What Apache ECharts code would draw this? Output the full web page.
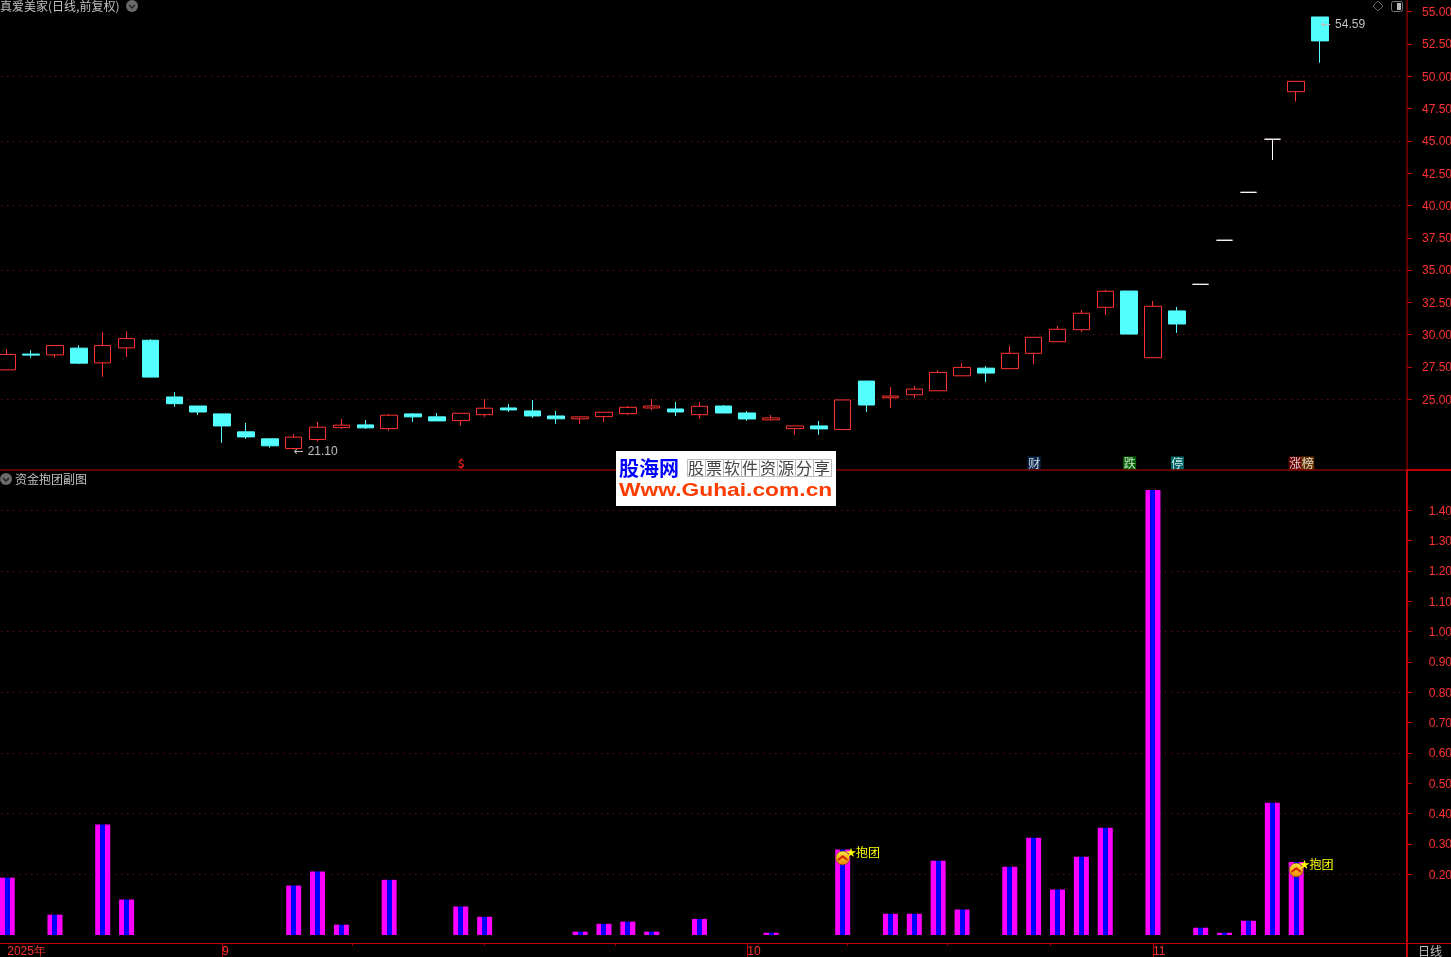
<!DOCTYPE html>
<html><head><meta charset="utf-8">
<style>html,body{margin:0;padding:0;background:#000}#c{width:1451px;height:957px}</style>
<script src="https://cdn.jsdelivr.net/npm/echarts@6/dist/echarts.min.js"></script>
</head><body><div id="c"></div>
<script>
// [open, close, low, high]
const candles = [
[27.28,28.47,27.28,28.88],[28.50,28.42,28.21,28.80],[28.44,29.16,28.21,29.16],[28.96,27.80,27.72,29.19],
[27.82,29.16,26.74,30.19],[28.98,29.70,28.28,30.27],[29.57,26.72,26.72,29.65],[25.18,24.66,24.41,25.56],
[24.48,24.02,23.78,24.48],[23.87,22.94,21.63,23.87],[22.48,22.09,21.94,23.18],[21.94,21.40,21.25,21.94],
[21.19,22.07,21.10,22.32],[21.89,22.84,21.73,23.25],[22.81,23.00,22.71,23.48],[23.02,22.79,22.71,23.40],
[22.73,23.77,22.56,23.87],[23.87,23.64,23.25,23.94],[23.64,23.33,23.33,23.94],[23.35,23.92,22.96,23.92],
[23.81,24.31,23.64,25.02],[24.33,24.18,24.02,24.64],[24.10,23.71,23.56,24.95],[23.71,23.49,23.10,24.10],
[23.49,23.64,23.10,23.64],[23.66,24.00,23.25,24.00],[23.89,24.38,23.79,24.49],[24.33,24.48,24.18,25.02],
[24.25,24.02,23.71,24.79],[23.81,24.46,23.49,24.79],[24.48,23.94,23.94,24.56],[23.94,23.48,23.33,24.10],
[23.41,23.56,23.33,23.79],[22.73,22.94,22.25,22.94],[22.94,22.71,22.25,23.33],[22.66,24.95,22.66,24.95],
[26.41,24.56,24.02,26.41],[25.12,25.25,24.33,25.95],[25.35,25.79,25.10,26.03],[25.66,27.08,25.66,27.26],
[26.82,27.47,26.82,27.80],[27.41,27.03,26.33,27.57],[27.37,28.56,27.37,29.13],[28.56,29.80,27.73,29.80],
[29.46,30.42,29.46,30.68],[30.39,31.66,30.21,31.91],[32.12,33.36,31.53,33.48],[33.38,30.05,30.05,33.38],
[28.22,32.20,28.22,32.61],[31.84,30.83,30.14,32.15],[33.90,33.90,33.90,33.90],[37.31,37.31,37.31,37.31],
[41.02,41.02,41.02,41.02],[45.13,45.13,43.52,45.13],[48.81,49.61,48.04,49.61],[54.59,52.74,51.05,54.59]
];
const flowIdx = [0,2,4,5,12,13,14,16,19,20,24,25,26,27,29,32,35,37,38,39,40,42,43,44,45,46,48,50,51,52,53,54];
const flowVal = [.189,.067,.364,.117,.163,.209,.034,.182,.094,.060,.011,.037,.044,.011,.053,.0075,.282,.070,.070,.245,.084,.225,.321,.150,.258,.354,1.467,.024,.0075,.047,.436,.241];
const signalIdx = [35,54];
const signalVal = [.254,.214];
const monthIdx = [0,9,31,48];
const monthText = ['2025年','9','10','11'];
const minorTickAt = [14.45,19.97,25.46,35.2,39.4,43.7];
const priceTicks = [25,27.5,30,32.5,35,37.5,40,42.5,45,47.5,50,52.5,55];
const priceGrid = [25,30,35,40,45,50];
const flowTicks = [.2,.3,.4,.5,.6,.7,.8,.9,1,1.1,1.2,1.3,1.4];
const flowGrid = [.2,.4,.6,.8,1,1.2,1.4];
const tagIdx = [19,43,47,49,54,54];
const tagText = ['$','财','跌','停','涨','榜'];
const tagBg = ['transparent','#0a3060','#007a00','#007f7f','#800000','#804000'];
const lowHigh = [[12,21.10],[55,54.59]];
const title = '真爱美家(日线,前复权)';
const subTitle = '资金抱团副图';
const periodText = '日线';
const logoCn = '股海网', logoSlogan = '股票软件资源分享', logoUrl = 'Www.Guhai.com.cn';

const RED='#ff3232', LINE='#c00000', DOT='#8c1414', GRAY='#c0c0c0';
const NUM='"Liberation Sans",Arial,sans-serif', CJK='"Noto Sans CJK SC","Liberation Sans",sans-serif';
const slots = 59, band = 23.87, gridLeft = -4.7;
const categories = Array.from({length:slots},(_,i)=>String(i));
const gridW = slots*band;
const labelMargin = 45, axisShift = 1407-(gridLeft+gridW);

const yCommon = {type:'value',position:'right',offset:axisShift,scale:false};
const chevron = 'path://M0 6 L5 0 L10 6 L10 9 L5 4 L0 9 Z';
const badge = {type:'linear',x:0,y:0,x2:0,y2:1,colorStops:[{offset:0,color:'#ffe840'},{offset:1,color:'#f08000'}]};

const chart = echarts.init(document.getElementById('c'),null,{renderer:'canvas'});
const graphics = [];
const txt=(x,y,t,o)=>graphics.push(Object.assign({type:'text',x,y,silent:true,z:o.z||50,style:Object.assign({text:t,fill:GRAY,font:'12px '+CJK,textVerticalAlign:'middle'},o.s||{})},o.e||{}));
// frame
[[0,470,1451,470,1],[1407,470,1451,470,2],[0,943.5,1451,943.5,1],[1407,0,1407,470,1],[1407,470,1407,957,2]].forEach(l=>{
 graphics.push({type:'line',silent:true,z:40,shape:{x1:l[0],y1:l[1],x2:l[2],y2:l[3]},style:{stroke:LINE,lineWidth:l[4]}});
});
const circleIcon=(cx,cy)=>{
 graphics.push({type:'circle',silent:true,z:50,shape:{cx,cy,r:6},style:{fill:'#6a6a6a'}});
 graphics.push({type:'polyline',silent:true,z:51,shape:{points:[[cx-3,cy-1],[cx,cy+2],[cx+3,cy-1]]},style:{stroke:'#222',lineWidth:1.5,fill:null}});
};
txt(0,6,title,{});
circleIcon(132,6);
circleIcon(6,479);
txt(15,479,subTitle,{});
txt(1418,951,periodText,{});
graphics.push({type:'polygon',silent:true,z:50,shape:{points:[[1378,1],[1383,6],[1378,11],[1373,6]]},style:{stroke:'#666',fill:null,lineWidth:1}});
graphics.push({type:'rect',silent:true,z:50,shape:{x:1391.5,y:1.5,width:11,height:10,r:2},style:{stroke:'#777',fill:null,lineWidth:1}});
graphics.push({type:'rect',silent:true,z:50,shape:{x:1397,y:3,width:4,height:7},style:{fill:'#bbb'}});
// logo
graphics.push({type:'rect',silent:true,z:60,shape:{x:616,y:451,width:220,height:55},style:{fill:'#fff'}});
txt(619,468,logoCn,{z:61,s:{fill:'#0000ff',font:'bold 20px '+CJK}});
[...logoSlogan].forEach((ch,i)=>{
 graphics.push({type:'rect',silent:true,z:61,shape:{x:687.5+i*18,y:459.5,width:18,height:17},style:{fill:null,stroke:'#bbb',lineWidth:1}});
 txt(688+i*18,468,ch,{z:62,s:{fill:'#444',font:'16px '+CJK}});
});
txt(619,490.5,logoUrl,{z:61,s:{fill:'#ff3c00',font:'bold 19px '+NUM},e:{scaleX:1.2,originX:0}});

const yLabel = {show:true,color:RED,fontFamily:NUM,fontSize:12,align:'right',verticalAlign:'top',margin:labelMargin,padding:[-5,0,0,0],formatter:v=>(+v).toFixed(2)};
const option = {
 backgroundColor:'#000', animation:false,
 grid:[{left:gridLeft,top:0,width:gridW,height:470,outerBoundsMode:'none'},{left:gridLeft,top:470,width:gridW,height:473.5,outerBoundsMode:'none'}],
 xAxis:[
  {type:'category',gridIndex:0,data:categories,show:false,axisLine:{onZero:false}},
  {type:'category',gridIndex:1,data:categories,position:'bottom',
   axisLine:{show:false,onZero:false},
   axisTick:{show:true,alignWithLabel:true,length:14,interval:(i)=>monthIdx.indexOf(i)>0,lineStyle:{color:LINE}},
   axisLabel:{show:true,color:RED,fontFamily:NUM,fontSize:12,align:'left',margin:2,hideOverlap:false,
     interval:(i)=>monthIdx.indexOf(i)>=0,formatter:(v,i)=>{const k=monthIdx.indexOf(+v);return k>=0?monthText[k]:'';}}},
  {type:'value',gridIndex:1,min:-0.5,max:slots-0.5,position:'bottom',splitLine:{show:false},axisLine:{show:false,onZero:false},axisLabel:{show:false},
   axisTick:{show:true,length:2,customValues:minorTickAt,lineStyle:{color:LINE}}}
 ],
 yAxis:[
  Object.assign({},yCommon,{gridIndex:0,min:19.528,max:55.906,splitLine:{show:false},axisLine:{show:false,onZero:false},
   axisTick:{show:true,length:5,customValues:priceTicks,lineStyle:{color:LINE}},
   axisLabel:Object.assign({customValues:priceTicks},yLabel)}),
  Object.assign({},yCommon,{gridIndex:0,min:19.528,max:55.906,axisLine:{show:false,onZero:false},axisLabel:{show:false},
   axisTick:{show:false,customValues:priceGrid},
   splitLine:{show:true,lineStyle:{color:DOT,type:[1,5],width:1}}}),
  Object.assign({},yCommon,{gridIndex:1,min:-0.0280,max:1.5331,splitLine:{show:false},axisLine:{show:false,onZero:false},
   axisTick:{show:true,length:5,customValues:flowTicks,lineStyle:{color:LINE}},
   axisLabel:Object.assign({customValues:flowTicks},yLabel)}),
  Object.assign({},yCommon,{gridIndex:1,min:-0.0280,max:1.5331,axisLine:{show:false,onZero:false},axisLabel:{show:false},
   axisTick:{show:false,customValues:flowGrid},
   splitLine:{show:true,lineStyle:{color:DOT,type:[1,5],width:1}}})
 ],
 series:[
  {name:'K线',type:'candlestick',xAxisIndex:0,yAxisIndex:0,barWidth:17,data:candles,
   itemStyle:{color:'#000',color0:'#54ffff',borderColor:'#ff3232',borderColor0:'#54ffff',borderColorDoji:'#ffffff',borderWidth:1},
   markPoint:{symbol:'circle',symbolSize:0,silent:true,data:lowHigh.map((p,k)=>({coord:p,value:p[1],
     label:{show:true,position:'right',distance:k?1:0,offset:k?[0,8]:[0,2],formatter:'{a|←}'+p[1].toFixed(2),color:GRAY,fontFamily:NUM,fontSize:12,rich:{a:{fontFamily:'"DejaVu Sans"',fontSize:12,color:GRAY,width:14}}}}))}},
  {name:'标记',type:'scatter',xAxisIndex:0,yAxisIndex:0,symbolSize:0,z:5,silent:true,
   data:tagIdx.map((x,i)=>({value:[x,20.07],label:{show:true,position:'inside',formatter:tagText[i],offset:i==4?[-1,0]:i==5?[11.5,0]:[0.5,0],
     backgroundColor:tagBg[i],color:i==0?'#ff2020':'#fff',fontSize:12,fontWeight:i==0?'bold':'normal',fontFamily:CJK,width:13,height:13,lineHeight:13,align:'center',verticalAlign:'middle'}}))},
  {name:'资金抱团',type:'bar',xAxisIndex:1,yAxisIndex:2,barWidth:15,
   data:flowIdx.map((x,i)=>[x,flowVal[i]]),
   itemStyle:{color:{type:'linear',x:0,y:0,x2:1,y2:0,colorStops:[
     {offset:0,color:'#ff00ff'},{offset:1/3,color:'#ff00ff'},{offset:1/3,color:'#0000ff'},{offset:2/3,color:'#0000ff'},{offset:2/3,color:'#ff00ff'},{offset:1,color:'#ff00ff'}]}}},
  {name:'信号',type:'scatter',xAxisIndex:1,yAxisIndex:2,symbol:'circle',symbolSize:14,z:6,silent:true,
   data:signalIdx.map((x,i)=>[x,signalVal[i]]),
   itemStyle:{color:badge,borderColor:'#402000',borderWidth:0.5,opacity:1},
   label:{show:true,position:'right',distance:-4,offset:[0,-6],formatter:'{s|★}抱团',color:'#ffff00',fontSize:12,fontFamily:CJK,rich:{s:{fontSize:10,color:'#ffff00',width:10,fontFamily:CJK}}}},
  {name:'信号箭头',type:'scatter',xAxisIndex:1,yAxisIndex:2,symbol:chevron,symbolSize:[10,6],z:7,silent:true,
   data:signalIdx.map((x,i)=>[x,signalVal[i]]),itemStyle:{color:'#d02000',opacity:1}}
 ],
 graphic:{elements:graphics}
};
chart.setOption(option);
</script></body></html>
